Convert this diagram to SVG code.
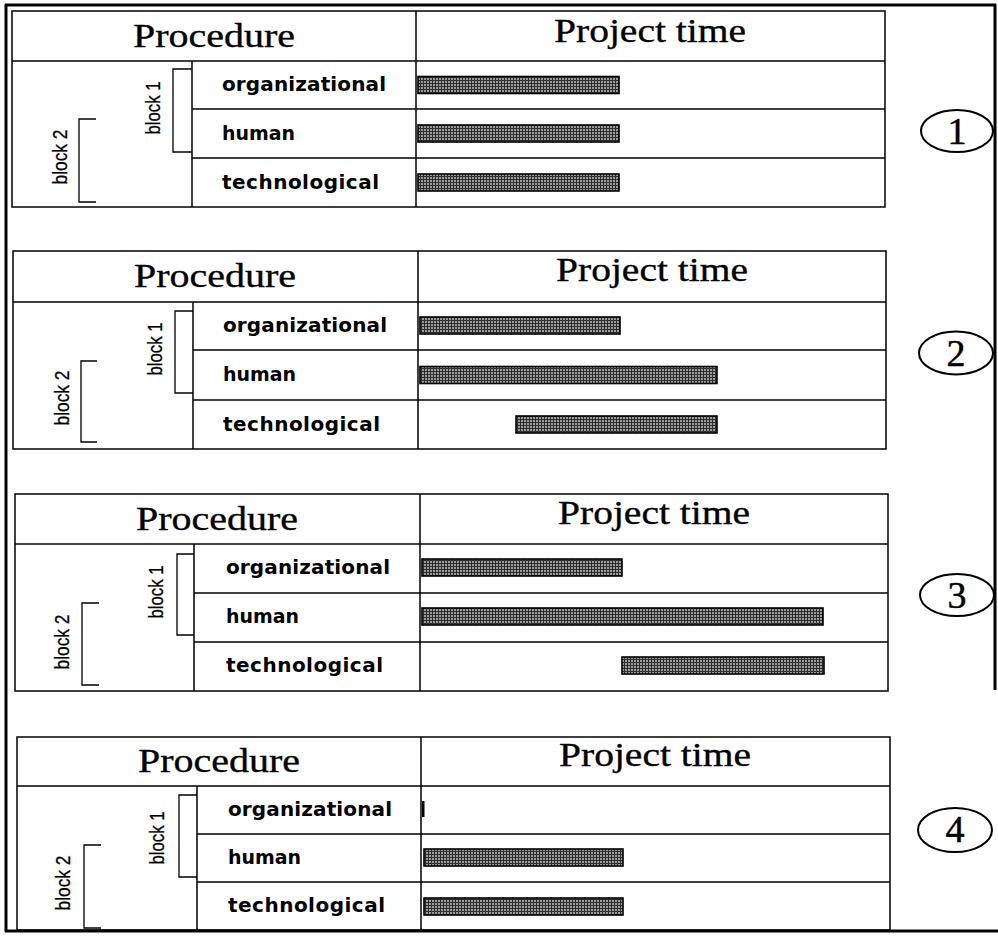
<svg xmlns="http://www.w3.org/2000/svg" width="998" height="938" viewBox="0 0 998 938">
  <defs>
    <!-- fine screen used for the time bars -->
    <pattern id="screen" width="3" height="3" patternUnits="userSpaceOnUse">
      <rect width="3" height="3" fill="#9c9c9c"/>
      <path d="M0 0.5H3M0.5 0V3" stroke="#2e2e2e" stroke-width="1"/>
    </pattern>
    <style>
      .frame { fill: none; stroke: #000; stroke-width: 3; }
      .grid { fill: none; stroke: #000; stroke-width: 1.5; }
      .brk { fill: none; stroke: #000; stroke-width: 1.3; }
      .bar { fill: url(#screen); stroke: #000; stroke-width: 1.6; }
      .hdr { font-family: "Liberation Serif", "Times New Roman", serif; font-size: 34px; fill: #000; stroke: #000; stroke-width: 0.35; text-anchor: middle; }
      .row { font-family: "DejaVu Sans", "Liberation Sans", sans-serif; font-weight: bold; font-size: 20px; fill: #000; }
      .blk { font-family: "Liberation Sans", Arial, sans-serif; font-size: 21px; fill: #000; stroke: #000; stroke-width: 0.3; text-anchor: middle; }
      .num { fill: none; stroke: #000; stroke-width: 2; }
      .numt { font-family: "Liberation Serif", "Times New Roman", serif; font-size: 38px; fill: #000; stroke: #000; stroke-width: 0.5; text-anchor: middle; }
    </style>
  </defs>
  <rect width="998" height="938" fill="#fff"/>

  <!-- outer frame -->
  <g id="frame">
    <path class="frame" d="M5 5H996M6 4V932M995 4V690M5 931H998"/>
  </g>

  <!-- table 1 -->
  <g id="table1" transform="translate(12,11)">
    <rect class="grid" x="0" y="0" width="873" height="196"/>
    <path class="grid" d="M0 50H873M180 98H873M180 147H873M404 0V196M180 50V196"/>
    <path class="brk" d="M180 58H161V141H180M84 108H67V191H84"/>
    <text class="hdr" x="202" y="36" textLength="162" lengthAdjust="spacingAndGlyphs">Procedure</text>
    <text class="hdr" x="638" y="31" textLength="192" lengthAdjust="spacingAndGlyphs">Project time</text>
    <text class="blk" transform="translate(148,97) rotate(-90)" textLength="53" lengthAdjust="spacingAndGlyphs">block 1</text>
    <text class="blk" transform="translate(55,146) rotate(-90)" textLength="55" lengthAdjust="spacingAndGlyphs">block 2</text>
    <text class="row" x="210" y="80" textLength="164">organizational</text>
    <text class="row" x="210" y="129" textLength="73" lengthAdjust="spacingAndGlyphs">human</text>
    <text class="row" x="210" y="178" textLength="157">technological</text>
    <rect class="bar" x="406" y="65.5" width="201" height="17"/>
    <rect class="bar" x="406" y="114" width="201" height="17"/>
    <rect class="bar" x="406" y="163" width="201" height="17"/>
  </g>

  <!-- table 2 -->
  <g id="table2" transform="translate(13,251)">
    <rect class="grid" x="0" y="0" width="873" height="198"/>
    <path class="grid" d="M0 51H873M180 99H873M180 149H873M405 0V198M180 51V198"/>
    <path class="brk" d="M180 60H162V142H180M84 110H68V191H84"/>
    <text class="hdr" x="202" y="36" textLength="162" lengthAdjust="spacingAndGlyphs">Procedure</text>
    <text class="hdr" x="639" y="30" textLength="192" lengthAdjust="spacingAndGlyphs">Project time</text>
    <text class="blk" transform="translate(149,98) rotate(-90)" textLength="53" lengthAdjust="spacingAndGlyphs">block 1</text>
    <text class="blk" transform="translate(56,147) rotate(-90)" textLength="55" lengthAdjust="spacingAndGlyphs">block 2</text>
    <text class="row" x="210" y="81" textLength="164">organizational</text>
    <text class="row" x="210" y="130" textLength="73" lengthAdjust="spacingAndGlyphs">human</text>
    <text class="row" x="210" y="180" textLength="157">technological</text>
    <rect class="bar" x="407" y="66" width="200" height="17"/>
    <rect class="bar" x="407" y="115.5" width="297" height="17"/>
    <rect class="bar" x="503" y="165" width="201" height="17"/>
  </g>

  <!-- table 3 -->
  <g id="table3" transform="translate(15,494)">
    <rect class="grid" x="0" y="0" width="873" height="197"/>
    <path class="grid" d="M0 50H873M179 99H873M179 148H873M405 0V197M179 50V197"/>
    <path class="brk" d="M179 60H162V141H179M84 109H67V191H84"/>
    <text class="hdr" x="202" y="36" textLength="162" lengthAdjust="spacingAndGlyphs">Procedure</text>
    <text class="hdr" x="639" y="30" textLength="192" lengthAdjust="spacingAndGlyphs">Project time</text>
    <text class="blk" transform="translate(148,98) rotate(-90)" textLength="53" lengthAdjust="spacingAndGlyphs">block 1</text>
    <text class="blk" transform="translate(54,148) rotate(-90)" textLength="55" lengthAdjust="spacingAndGlyphs">block 2</text>
    <text class="row" x="211" y="80" textLength="164">organizational</text>
    <text class="row" x="211" y="129" textLength="73" lengthAdjust="spacingAndGlyphs">human</text>
    <text class="row" x="211" y="178" textLength="157">technological</text>
    <rect class="bar" x="407" y="65" width="200" height="17"/>
    <rect class="bar" x="407" y="114" width="401" height="17"/>
    <rect class="bar" x="607" y="163" width="202" height="17"/>
  </g>

  <!-- table 4 -->
  <g id="table4" transform="translate(17,737)">
    <rect class="grid" x="0" y="0" width="873" height="193"/>
    <path class="grid" d="M0 49H873M180 97H873M180 145H873M404 0V193M180 49V193"/>
    <path class="brk" d="M180 58H162V140H180M84 108H67V191H84"/>
    <text class="hdr" x="202" y="35" textLength="162" lengthAdjust="spacingAndGlyphs">Procedure</text>
    <text class="hdr" x="638" y="29" textLength="192" lengthAdjust="spacingAndGlyphs">Project time</text>
    <text class="blk" transform="translate(147,101) rotate(-90)" textLength="53" lengthAdjust="spacingAndGlyphs">block 1</text>
    <text class="blk" transform="translate(53,146) rotate(-90)" textLength="55" lengthAdjust="spacingAndGlyphs">block 2</text>
    <text class="row" x="211" y="79" textLength="164">organizational</text>
    <text class="row" x="211" y="127" textLength="73" lengthAdjust="spacingAndGlyphs">human</text>
    <text class="row" x="211" y="175" textLength="157">technological</text>
    <rect x="405" y="64" width="2.5" height="16" fill="#000"/>
    <rect class="bar" x="407" y="112" width="199" height="17"/>
    <rect class="bar" x="407" y="161" width="199" height="17"/>
  </g>

  <!-- scenario numbers -->
  <g id="mark1">
    <ellipse class="num" cx="957" cy="131" rx="36" ry="21"/>
    <text class="numt" x="957" y="144">1</text>
  </g>
  <g id="mark2">
    <ellipse class="num" cx="956" cy="353" rx="37" ry="21.5"/>
    <text class="numt" x="956" y="366">2</text>
  </g>
  <g id="mark3">
    <ellipse class="num" cx="957" cy="595" rx="37" ry="21"/>
    <text class="numt" x="957" y="608">3</text>
  </g>
  <g id="mark4">
    <ellipse class="num" cx="955" cy="830" rx="37" ry="22"/>
    <text class="numt" font-family="Liberation Sans, Arial, sans-serif" font-size="34" x="955" y="842">4</text>
  </g>
</svg>
